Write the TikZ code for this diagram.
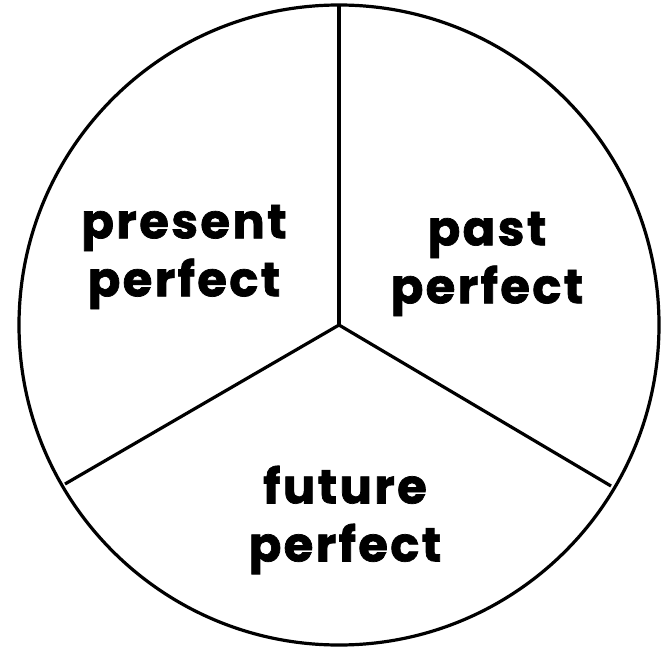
\documentclass[tikz,border=0pt]{standalone}
\usepackage{fontspec}
\setmainfont{Poppins}[BoldFeatures={FakeBold=1.5,LetterSpace=5}]
\begin{document}
\begin{tikzpicture}[x=1pt,y=-1pt,
  lbl/.style={font=\fontsize{48}{58}\selectfont\bfseries, align=center, text=black},
  sep/.style={line width=3.2pt, black}]
\useasboundingbox (0,0) rectangle (668,647);
\coordinate (c) at (339,325);
\draw[sep] (c) circle[radius=320];
\coordinate (t) at (339,5);
\coordinate (l) at (65,484);
\coordinate (r) at (611,486);
\draw[sep] (c) -- (t);
\draw[sep] (c) -- (l);
\draw[sep] (c) -- (r);
\node[lbl] (a) at (184,257) {present\\perfect};
\node[lbl] (b) at (487,264) {past\\perfect};
\node[lbl] (f) at (345,520) {future\\perfect};
\end{tikzpicture}
\end{document}
